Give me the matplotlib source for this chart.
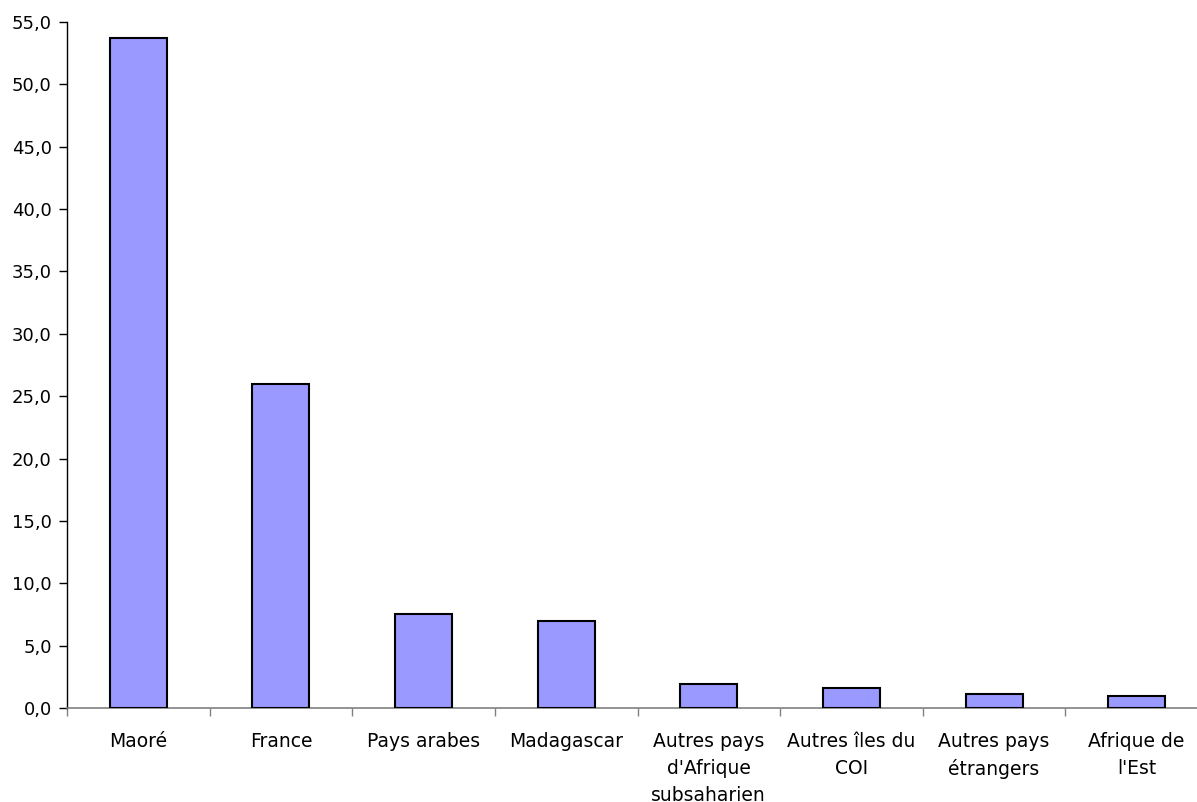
import numpy as np
import matplotlib.pyplot as plt

# Data
categories = ["Maoré", "France", "Pays arabes", "Madagascar",
              "Autres pays\nd'Afrique\nsubsaharien", "Autres îles du\nCOI",
              "Autres pays\nétrangers", "Afrique de\nl'Est"]
values = [53.7, 26.0, 7.5, 7.0, 1.9, 1.6, 1.1, 0.95]
y_ticks = np.arange(0, 56, 5)

fig = plt.figure(figsize=(11.97, 8.02), dpi=100)
ax = fig.add_axes([67 / 1197, 1 - 708 / 802, 1141 / 1197, (708 - 22) / 802])

x = np.arange(len(categories))
ax.bar(x, values, width=0.40, color="#9999FF", edgecolor="black", linewidth=1.5, zorder=3)

ax.set_xlim(-0.5, len(categories) - 0.5)
ax.set_ylim(0, 55)
ax.set_yticks(y_ticks)
ax.set_yticklabels([f"{v:.1f}".replace(".", ",") for v in y_ticks], fontsize=13)

# labels at centres, tick marks at category boundaries
ax.set_xticks(x)
ax.set_xticklabels(categories, fontsize=13.5, linespacing=1.55, va="top")
ax.tick_params(axis="x", which="major", length=0, pad=17)
ax.set_xticks(np.arange(-0.5, len(categories)), minor=True)
ax.tick_params(axis="x", which="minor", length=6, width=1, color="#808080", direction="out")
ax.tick_params(axis="y", length=6, width=1, direction="out", pad=5)

for side in ("top", "right"):
    ax.spines[side].set_visible(False)
ax.spines["bottom"].set_color("#808080")
ax.spines["bottom"].set_linewidth(1.2)
ax.spines["left"].set_color("black")
ax.spines["left"].set_linewidth(1)

fig.savefig("out.png", dpi=100)
